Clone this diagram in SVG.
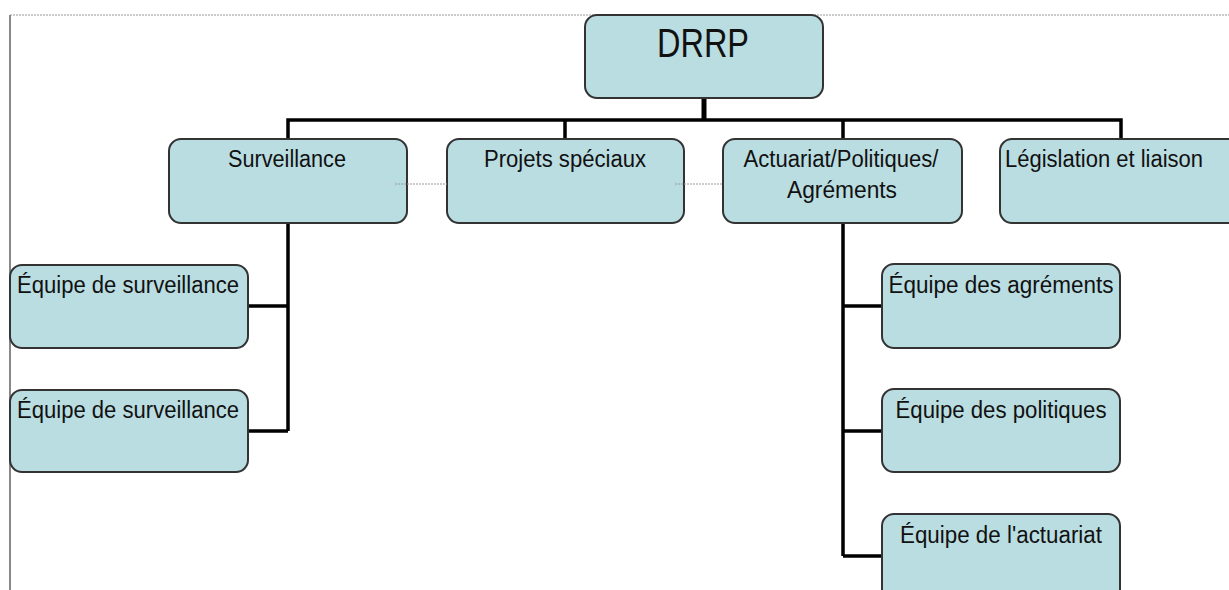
<svg xmlns="http://www.w3.org/2000/svg" width="1229" height="590" viewBox="0 0 1229 590">
<style>
.box{fill:#badde1;stroke:#333;stroke-width:2}
.t{font-family:"Liberation Sans",Arial,sans-serif;font-size:23px;fill:#111}
.c{text-anchor:middle}
.bus{stroke:#000;fill:none;stroke-width:3.5}
.dot{stroke:#999;stroke-width:1.2;stroke-dasharray:2 1;fill:none}
</style>
<rect x="0" y="0" width="1229" height="590" fill="#fff"/>
<line x1="10" y1="15" x2="1229" y2="15" class="dot"/>
<line x1="10" y1="15" x2="10" y2="590" stroke="#888" stroke-width="2"/>
<g id="connectors">
<line x1="704" y1="98" x2="704" y2="120" stroke="#000" stroke-width="5"/>
<path class="bus" d="M288 140 V120 H1121 V140 M565 120 V140 M843 120 V140"/>
<path class="bus" d="M288 223 V431 M248 306 H288 M248 431 H288"/>
<path class="bus" d="M843 223 V556 M843 306 H882 M843 431 H882 M843 556 H882"/>
</g>
<g id="drrp"><rect class="box" x="585" y="15" width="238" height="83" rx="12"/><text class="t c" x="703" y="57" style="font-size:40px" textLength="92" lengthAdjust="spacingAndGlyphs">DRRP</text></g>
<g id="surveillance"><rect class="box" x="169" y="139" width="238" height="84" rx="12"/><text class="t c" x="287" y="167" textLength="118" lengthAdjust="spacingAndGlyphs">Surveillance</text></g>
<g id="projets"><rect class="box" x="447" y="139" width="237" height="84" rx="12"/><text class="t c" x="565" y="167" textLength="162" lengthAdjust="spacingAndGlyphs">Projets spéciaux</text></g>
<g id="actuariat"><rect class="box" x="723" y="139" width="239" height="84" rx="12"/><text class="t c" x="841" y="167" textLength="195" lengthAdjust="spacingAndGlyphs">Actuariat/Politiques/</text><text class="t c" x="842" y="198" textLength="110" lengthAdjust="spacingAndGlyphs">Agréments</text></g>
<g id="legislation"><rect class="box" x="1000" y="139" width="240" height="84" rx="12"/><text class="t" x="1005" y="167" textLength="198" lengthAdjust="spacingAndGlyphs">Législation et liaison</text></g>
<g id="equipe-surv-1"><rect class="box" x="10" y="265" width="238" height="83" rx="12"/><text class="t" x="17" y="293" textLength="222" lengthAdjust="spacingAndGlyphs">Équipe de surveillance</text></g>
<g id="equipe-surv-2"><rect class="box" x="10" y="390" width="238" height="82" rx="12"/><text class="t" x="17" y="418" textLength="222" lengthAdjust="spacingAndGlyphs">Équipe de surveillance</text></g>
<g id="equipe-agrements"><rect class="box" x="882" y="264" width="238" height="84" rx="12"/><text class="t c" x="1001" y="293" textLength="225" lengthAdjust="spacingAndGlyphs">Équipe des agréments</text></g>
<g id="equipe-politiques"><rect class="box" x="882" y="389" width="238" height="83" rx="12"/><text class="t c" x="1001" y="418" textLength="211" lengthAdjust="spacingAndGlyphs">Équipe des politiques</text></g>
<g id="equipe-actuariat"><rect class="box" x="882" y="514" width="238" height="90" rx="12"/><text class="t c" x="1001" y="543" textLength="202" lengthAdjust="spacingAndGlyphs">Équipe de l'actuariat</text></g>
<g id="dotted-links">
<line x1="395" y1="184" x2="447" y2="184" class="dot"/>
<line x1="675" y1="184" x2="723" y2="184" class="dot"/>
</g>
</svg>
